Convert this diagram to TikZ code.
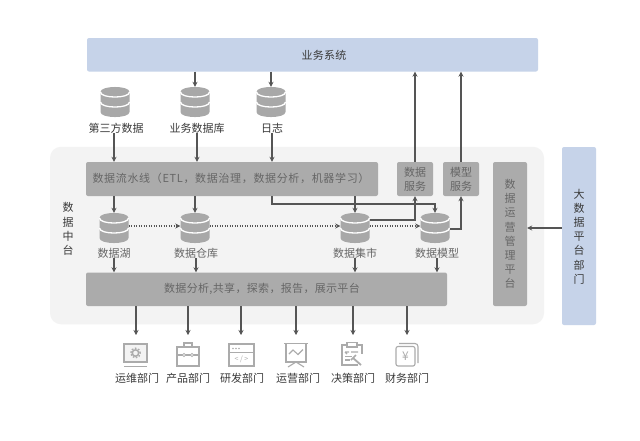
\documentclass[tikz,border=0pt]{standalone}
\usepackage{fontspec}
\setmainfont{Noto Sans CJK SC}
\newfontface\wideface[LetterSpace=6]{Noto Sans CJK SC}
\newfontface\midface[LetterSpace=3]{Noto Sans CJK SC}
\usetikzlibrary{arrows.meta}
\definecolor{cblue}{HTML}{C6D3E9}
\definecolor{cbg}{HTML}{F3F3F3}
\definecolor{cbox}{HTML}{ABABAB}
\definecolor{ccyl}{HTML}{A8A8A8}
\definecolor{ctxt}{HTML}{666666}
\definecolor{cdark}{HTML}{3A3A3A}
\definecolor{cline}{HTML}{555555}
\definecolor{cicon}{HTML}{ABABAB}
\tikzset{
  x=1pt,y=-1pt,
  bluebox/.style={fill=cblue,rounded corners=2pt,inner sep=0pt,text=cdark,font=\fontsize{11}{14.2}\selectfont,align=center},
  graybox/.style={fill=cbox,rounded corners=2pt,inner sep=0pt,text=ctxt,font=\fontsize{11}{14.2}\selectfont,align=center},
  label/.style={inner sep=0pt,text=cdark,font=\fontsize{11}{13}\selectfont},
  inlabel/.style={inner sep=0pt,text=ctxt,font=\fontsize{11}{14.2}\selectfont,align=center},
  cylbox/.style={inner sep=0pt,minimum width=29pt,minimum height=30pt},
  arr/.style={draw=cline,line width=1.1pt,-{Stealth[length=5pt,width=5pt]}},
  dotarr/.style={draw=cline,line width=1.1pt,dash pattern=on 1.2pt off 1.3pt,-{Stealth[length=5pt,width=5pt]}},
  ico/.style={draw=cicon,line width=1.1pt},
  icotxt/.style={inner sep=0pt,text=cicon},
}
\newcommand{\mycyl}[3]{%
  \node[cylbox] (#1) at (#2,#3) {};
  \begin{scope}[shift={(#2,#3)}]
    \fill[ccyl] (-14.5,-10) .. controls (-14.5,-16.7) and (14.5,-16.7) .. (14.5,-10)
      -- (14.5,10) .. controls (14.5,16.7) and (-14.5,16.7) .. (-14.5,10) -- cycle;
    \draw[white,line width=1.3pt] (-14.5,-10) .. controls (-14.5,-3.3) and (14.5,-3.3) .. (14.5,-10);
    \draw[white,line width=1.3pt] (-14.5,0) .. controls (-14.5,6.7) and (14.5,6.7) .. (14.5,0);
  \end{scope}}
\newcommand{\myrect}[7]{% name, x1,y1,x2,y2, style, text
  \node[#6,minimum width=#4pt-#2pt,minimum height=#5pt-#3pt] (#1) at ({(#2+#4)/2},{(#3+#5)/2}) {#7};}
\begin{document}
\begin{tikzpicture}
\useasboundingbox (0,0) rectangle (640,440);
\fill[white] (0,0) rectangle (640,440);
% backgrounds
\node[fill=cbg,rounded corners=11pt,inner sep=0pt,minimum width=494pt,minimum height=177.5pt] (plat) at (297,235.5) {};
\myrect{top}{87}{38}{538}{71.5}{bluebox}{}
\node[label] (topt) at (324,55) {\midface 业务系统};
\myrect{dept}{562}{147}{596}{325}{bluebox}{}
\node[inlabel,text=cdark] (deptt) at (579,236.5) {大\\数\\据\\平\\台\\部\\门};
\myrect{pipe}{86}{162}{378}{196}{graybox}{}
\node[inlabel] (pipet) at (231,178) {\wideface 数据流水线（ETL，数据治理，数据分析，机器学习）};
\myrect{dsvc}{397}{162}{433}{196}{graybox}{数据\\服务}
\myrect{msvc}{443}{162}{479}{196}{graybox}{模型\\服务}
\myrect{ops}{493}{162}{527}{306}{graybox}{数\\据\\运\\营\\管\\理\\平\\台}
\myrect{ana}{86}{272.5}{447}{306}{graybox}{}
\node[inlabel] (anat) at (262,289) {\midface 数据分析,共享，探索，报告，展示平台};
\node[inlabel,text=cdark] (side) at (68,229) {数\\据\\中\\台};
% cylinders
\mycyl{ca}{115}{102}
\mycyl{cb}{195}{102}
\mycyl{cc}{271}{102}
\mycyl{la}{114}{228}
\mycyl{lb}{195}{228}
\mycyl{lc}{355}{228}
\mycyl{ld}{435}{228}
% labels
\node[label] (ta) at (116,128) {第三方数据};
\node[label] (tb) at (197,128) {业务数据库};
\node[label] (tc) at (272,128) {日志};
\node[label,text=ctxt] (ua) at (114,253) {数据湖};
\node[label,text=ctxt] (ub) at (196,253) {数据仓库};
\node[label,text=ctxt] (uc) at (355,253) {数据集市};
\node[label,text=ctxt] (ud) at (437,253) {数据模型};
% connectors
\draw[arr] (top.south -| cb) -- (cb.north);
\draw[arr] (top.south -| cc) -- (cc.north);
\draw[arr] (ta.south -| la) -- (pipe.north -| la);
\draw[arr] (tb.south) -- (pipe.north -| tb);
\draw[arr] (tc.south) -- (pipe.north -| tc);
\draw[arr] (pipe.south -| la) -- (la.north);
\draw[arr] (pipe.south -| lb) -- (lb.north);
\draw[arr] (pipe.south -| lc) -- (lc.north);
\draw[arr] (pipe.south -| tc) -- (272,204) -- (435,204) -- (ld.north);
\draw[dotarr] ([yshift=2pt]la.east) -- ([yshift=2pt]lb.west);
\draw[dotarr] ([yshift=2pt]lb.east) -- ([yshift=2pt]lc.west);
\draw[dotarr] ([yshift=2pt]lc.east) -- ([yshift=2pt]ld.west);
\draw[arr] ([yshift=8pt]lc.east) -- (415,220) -- (dsvc.south);
\draw[arr] ([yshift=-1pt]ld.east) -- (461,229) -- (msvc.south);
\draw[arr] (dsvc.north) -- (top.south -| dsvc);
\draw[arr] (msvc.north) -- (top.south -| msvc);
\draw[arr] (dept.west |- 0,228) -- (ops.east |- 0,228);
\draw[arr] (ua.south) -- (ana.north -| ua);
\draw[arr] (ub.south) -- (ana.north -| ub);
\draw[arr] (uc.south) -- (ana.north -| uc);
\draw[arr] (ud.south) -- (ana.north -| ud);
% department labels
\node[label] (d1) at (137,378) {运维部门};
\node[label] (d2) at (188,378) {产品部门};
\node[label] (d3) at (242,378) {研发部门};
\node[label] (d4) at (298,378) {运营部门};
\node[label] (d5) at (353,378) {决策部门};
\node[label] (d6) at (407,378) {财务部门};
% icon anchors
\coordinate (i1) at (136,343);
\coordinate (i2) at (188,343);
\coordinate (i3) at (241,343);
\coordinate (i4) at (296,343);
\coordinate (i5) at (353,343);
\coordinate (i6) at (407,343);
\foreach \n in {1,...,6}{\draw[arr] (ana.south -| i\n) -- ([yshift=8pt]i\n);}
% icon 1 monitor
\fill[cbg] (124,344) rectangle (147,362);
\draw[ico] (124,344) rectangle (147,362);
\draw[ico,line width=1.4pt] (124,366.5) -- (147,366.5);
\draw[cicon,line width=1.5pt] (135.5,353) circle (3.2pt);
\draw[cicon,line width=1.4pt,dash pattern=on 1.6pt off 1.6pt] (135.5,353) circle (4.8pt);
% icon 2 briefcase
\draw[ico] (177,347) rectangle (199,366);
\draw[ico] (184,347) -- (184,343) -- (192,343) -- (192,347);
\draw[ico] (177,355) -- (199,355);
\fill[white,draw=cicon,line width=0.8pt] (184,355) circle (1.6pt) (192,355) circle (1.6pt);
% icon 3 window
\draw[ico] (229,344) rectangle (254,366);
\draw[ico] (229,352.5) -- (254,352.5);
\fill[cicon] (233,348.5) circle (0.8pt) (236,348.5) circle (0.8pt) (239,348.5) circle (0.8pt);
\node[icotxt,font=\fontsize{7}{7}\selectfont] (i3t) at (241.5,359) {< / >};
% icon 4 presentation
\draw[ico] (284,343.5) -- (308,343.5);
\draw[ico] (286,343.5) -- (286,362) -- (306,362) -- (306,343.5);
\draw[ico] (289,354) -- (293,350) -- (298,354.5) -- (303,349.5);
\draw[ico] (288,367) -- (296,362) -- (304,367);
% icon 5 clipboard
\draw[ico] (358,365) -- (342,365) -- (342,345) -- (362,345) -- (362,354);
\draw[ico,fill=white] (347,342.5) rectangle (357,347);
\draw[ico] (345,352) -- (349,352) (345,352) -- (347,354) (351,352) -- (358,352);
\draw[ico] (345,360) -- (350,360) (345,356.5) -- (352,356.5);
\draw[cicon,line width=1.8pt] (353,358) -- (361,365);
\draw[cicon,line width=1.5pt] (356,355) -- (351,360);
% icon 6 yen
\draw[ico,rounded corners=3pt] (399,343.5) -- (418,343.5) -- (418,363);
\draw[ico,rounded corners=2pt] (396,346.5) rectangle (415,366);
\node[icotxt,font=\fontsize{12}{12}\selectfont] (i6t) at (405.5,356) {¥};
\end{tikzpicture}
\end{document}
